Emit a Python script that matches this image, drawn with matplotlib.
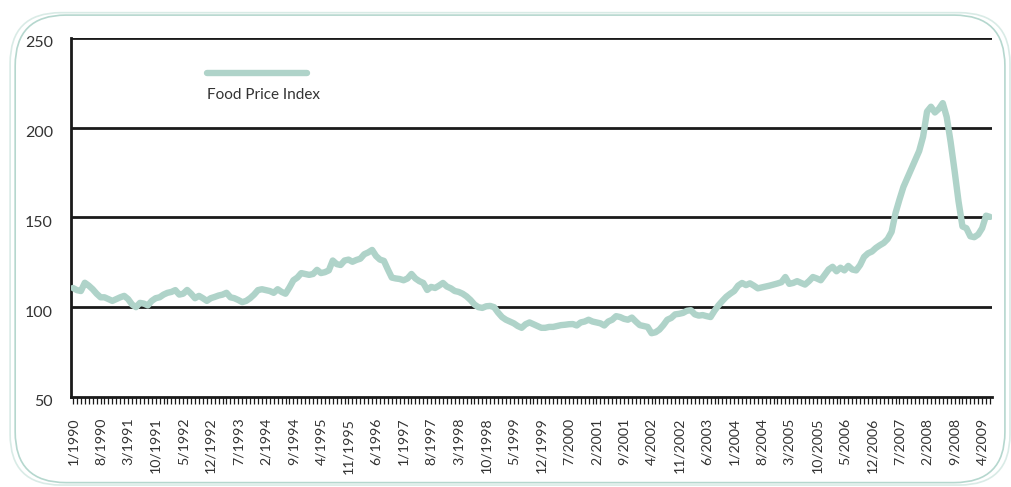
import numpy as np
import pandas as pd
import matplotlib
matplotlib.use('Agg')
from matplotlib import pyplot as plt
from matplotlib.patches import FancyBboxPatch
from matplotlib.lines import Line2D
from matplotlib.transforms import ScaledTranslation

plt.rcParams['font.family'] = ['Lato', 'DejaVu Sans']

# Monthly food price index, 1/1990 .. 6/2009
fpi_1990 = [110.7, 109.5, 109, 113.6, 112, 110, 107.5, 105.5, 105.5, 104.5, 103.5, 104.5]
fpi_1991 = [105.5, 106.3, 104.5, 101.5, 100, 102.4, 102, 101, 103.5, 105, 105.5, 107]
fpi_1992 = [108, 108.5, 109.5, 107, 107.5, 109.6, 107.5, 105, 106.3, 105, 103.5, 105]
fpi_1993 = [105.7, 106.5, 107, 108, 105.5, 105, 104, 102.8, 103.5, 105, 107, 109.5]
fpi_1994 = [110, 109.5, 109, 108, 110, 108.5, 107.5, 111, 115, 116.5, 119, 118.5]
fpi_1995 = [118, 118.5, 120.8, 119, 119.5, 120.5, 126, 124, 123.5, 126, 126.5, 125.3]
fpi_1996 = [126.3, 127, 129.5, 130.5, 131.9, 128.5, 126.5, 125.8, 121, 116.5, 116, 115.7]
fpi_1997 = [115, 116, 118.5, 116, 114.5, 113.5, 109.6, 111.3, 110.7, 112, 113.5, 111.5]
fpi_1998 = [110.5, 109, 108.5, 107.5, 106, 104, 101.5, 100, 99.6, 100.5, 100.7, 100]
fpi_1999 = [97, 94.5, 93, 92, 91, 89.5, 88.5, 90.5, 91.5, 90.5, 89.5, 88.5]
fpi_2000 = [88.5, 89, 89, 89.5, 90, 90.2, 90.5, 90.6, 89.8, 91.5, 92, 93]
fpi_2001 = [92, 91.5, 91, 89.8, 92, 93, 95, 94.5, 93.5, 93, 94.2, 92]
fpi_2002 = [90, 89.5, 89, 85.5, 86, 87.5, 90, 93, 94, 96, 96.3, 96.8]
fpi_2003 = [98, 98.3, 96, 95.3, 95.6, 95, 94.5, 98, 101, 103.5, 105.8, 107.5]
fpi_2004 = [109, 112, 113.5, 112.3, 113.3, 112, 110.5, 111, 111.5, 112, 112.6, 113.2]
fpi_2005 = [113.9, 116.8, 113, 113.5, 114.5, 113.5, 112.6, 114.5, 116.8, 116, 115, 118]
fpi_2006 = [121, 122.5, 120, 122, 120.5, 123, 121, 120.5, 123.5, 128, 130, 131]
fpi_2007 = [133, 134.5, 135.8, 138, 142, 152.5, 160, 167, 172, 177, 182, 187]
fpi_2008 = [195, 209, 211.7, 208.5, 210.5, 213.7, 206, 192, 176, 159, 145, 144]
fpi_2009 = [139.5, 139, 140.5, 144, 151, 150.3]

values = (fpi_1990 + fpi_1991 + fpi_1992 + fpi_1993 + fpi_1994 + fpi_1995 +
          fpi_1996 + fpi_1997 + fpi_1998 + fpi_1999 + fpi_2000 + fpi_2001 +
          fpi_2002 + fpi_2003 + fpi_2004 + fpi_2005 + fpi_2006 + fpi_2007 +
          fpi_2008 + fpi_2009)

months = pd.date_range('1990-01-01', periods=len(values), freq='MS')
month_labels = [f"{m.month}/{m.year}" for m in months]
label_step = 7
y_ticks = [50, 100, 150, 200, 250]

line_color = '#afd3c9'
text_color = '#333333'

fig = plt.figure(figsize=(10.12, 4.87), dpi=100)

# rounded double frame around the whole chart
for pad, col in [(0.0, '#d9ebe6'), (0.005, '#b5d7ce')]:
    frame = FancyBboxPatch((0.010 + pad, 0.004 + pad), 0.988 - 2 * pad, 0.970 - 2 * pad,
                           boxstyle='round,pad=0,rounding_size=0.05',
                           transform=fig.transFigure, fill=False,
                           edgecolor=col, linewidth=1.2, mutation_aspect=2.08)
    fig.patches.append(frame)

ax = fig.add_axes([0.0702, 0.185, 0.910, 0.737])

x = np.arange(len(values))
ax.plot(x, values, color=line_color, linewidth=4.6, solid_joinstyle='round',
        solid_capstyle='round', zorder=3)

ax.set_xlim(-0.5, len(values) - 0.5)
ax.set_ylim(50, 250)

# horizontal grid lines
for yv in y_ticks[1:]:
    ax.axhline(yv, color='#1a1a1a', linewidth=2.0, zorder=2)

for side in ['top', 'right']:
    ax.spines[side].set_visible(False)
for side in ['left', 'bottom']:
    ax.spines[side].set_linewidth(2.0)
    ax.spines[side].set_color('#1a1a1a')

ax.set_yticks(y_ticks)
ax.set_yticklabels([str(v) for v in y_ticks], fontsize=11.5, color=text_color)
ax.tick_params(axis='y', length=0, pad=13)
shift = ScaledTranslation(0, -4 / 100, fig.dpi_scale_trans)
for lab in ax.get_yticklabels():
    lab.set_transform(lab.get_transform() + shift)

major = x[::label_step]
ax.set_xticks(major)
ax.set_xticklabels([month_labels[i] for i in major], rotation=90,
                   fontsize=10.2, color=text_color)
ax.set_xticks(x, minor=True)
ax.tick_params(axis='x', which='both', direction='out', length=5, width=0.9,
               color='#1a1a1a', pad=10)

# legend: swatch above the label
ax.add_line(Line2D([0.148, 0.256], [0.9025, 0.9025], transform=ax.transAxes,
                   color=line_color, linewidth=4.6, solid_capstyle='round'))
ax.text(0.148, 0.841, 'Food Price Index', transform=ax.transAxes,
        fontsize=11, color=text_color, ha='left', va='center')

fig.savefig('out.png', dpi=100, facecolor='white')
